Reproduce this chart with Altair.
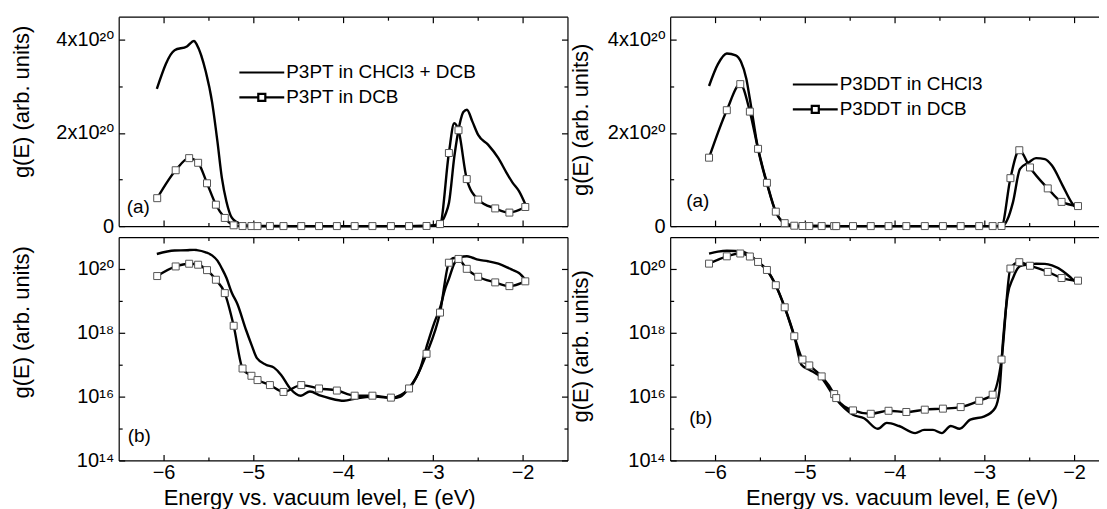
import altair as alt
import pandas as pd

FONT = "Liberation Sans, DejaVu Sans, Arial, sans-serif"

# ---------------- data ----------------
# Left: P3PT
LA_NAME = "P3PT in CHCl3 + DCB"
LA_E = [-6.075, -5.877, -5.74, -5.66, -5.63, -5.53, -5.46, -5.40, -5.35, -5.30, -5.24, -5.18,
        -5.08, -5.02, -4.96, -4.86, -4.77, -4.69, -4.59, -4.47, -4.37, -4.25, -4.15, -3.99,
        -3.85, -3.65, -3.45, -3.36, -3.27, -3.14, -3.06, -2.98, -2.92, -2.86, -2.82, -2.76,
        -2.70, -2.66, -2.62, -2.56, -2.495, -2.385, -2.27, -2.18, -2.11, -2.04, -1.963]
LA_G = [2.95e20, 3.78e20, 3.86e20, 3.98e20, 3.90e20, 3.32e20, 2.67e20, 1.82e20, 1.03e20, 5.3e19,
        1.8e19, 8.3e18, 1.2e18, 4.2e17, 1.6e17, 1.0e17, 8.1e16, 4.8e16, 1.8e16, 1.07e16, 1.45e16,
        1.07e16, 8.9e15, 7.4e15, 8.9e15, 1.0e16, 8.9e15, 1.0e16, 1.8e16, 7.6e16, 4.5e17, 2.2e18,
        6e18, 2.5e19, 5e19, 1.5e20, 2.2e20, 2.45e20, 2.50e20, 2.25e20, 1.96e20, 1.75e20, 1.46e20,
        1.15e20, 0.93e20, 0.75e20, 0.44e20]

LB_NAME = "P3PT in DCB"
LB_E = [-6.071, -5.865, -5.715, -5.615, -5.516, -5.417, -5.318, -5.219, -5.120, -5.021, -4.953,
        -4.815, -4.664, -4.466, -4.268, -4.069, -3.871, -3.673, -3.467, -3.265, -3.070, -2.920,
        -2.821, -2.714, -2.622, -2.495, -2.305, -2.147, -1.97]
LB_G = [6.0e19, 1.2e20, 1.46e20, 1.36e20, 9.2e19, 4.6e19, 1.75e19, 1.66e18, 7.6e16, 4.5e16, 3.3e16,
        2.3e16, 1.4e16, 2.3e16, 1.8e16, 1.55e16, 1.07e16, 1.07e16, 9.3e15, 1.8e16, 2.2e17, 4.3e18,
        1.57e20, 2.06e20, 1.01e20, 5.7e19, 3.8e19, 2.9e19, 4.1e19]
# points of the DCB curve between markers (spike)
LB_XE = [-2.762]
LB_XG = [2.21e20]

# Right: P3DDT
RA_NAME = "P3DDT in CHCl3"
RA_E = [-6.067, -5.968, -5.869, -5.77, -5.711, -5.651, -5.612, -5.521, -5.422, -5.323, -5.224,
        -5.117, -5.038, -4.95, -4.812, -4.661, -4.463, -4.34, -4.186, -4.087, -3.95, -3.77,
        -3.671, -3.572, -3.473, -3.374, -3.275, -3.156, -2.998, -2.879, -2.832, -2.792, -2.74,
        -2.681, -2.602, -2.503, -2.424, -2.325, -2.246, -2.127, -2.028, -1.97]
RA_G = [3.01e20, 3.48e20, 3.71e20, 3.67e20, 3.53e20, 3.16e20, 2.73e20, 1.66e20, 9.1e19, 3.0e19,
        6.3e18, 7.8e17, 1.0e17, 7e16, 3.8e16, 9e15, 2.7e15, 2.1e15, 9.8e14, 1.5e15, 1.2e15, 7.2e14,
        9.1e14, 9.1e14, 7.2e14, 1.2e15, 9.8e14, 1.9e15, 2.4e15, 4.4e15, 1.45e16, 5.4e17, 1.5e19,
        5.1e19, 1.23e20, 1.37e20, 1.46e20, 1.44e20, 1.30e20, 8.7e19, 5.1e19, 3.7e19]

RB_NAME = "P3DDT in DCB"
RB_E = [-6.067, -5.869, -5.719, -5.612, -5.521, -5.422, -5.323, -5.224, -5.117, -5.026, -4.95,
        -4.812, -4.673, -4.65, -4.463, -4.265, -4.067, -3.869, -3.663, -3.461, -3.263, -3.057,
        -2.907, -2.808, -2.709, -2.610, -2.491, -2.293, -2.139, -1.956]
RB_G = [1.47e20, 2.49e20, 3.05e20, 2.46e20, 1.66e20, 9.3e19, 3.1e19, 6.3e18, 7.8e17, 1.45e17,
        9.5e16, 4.3e16, 1.2e16, 9e15, 3.7e15, 2.9e15, 3.6e15, 3.3e15, 3.9e15, 4.2e15, 4.7e15,
        7.4e15, 1.15e16, 1.45e17, 1.03e20, 1.63e20, 1.26e20, 8.1e19, 5.2e19, 4.3e19]

X_MAJOR = [-6, -5, -4, -3, -2]
X_MINOR = [-5.5, -4.5, -3.5, -2.5]
Y_LIN_MAJOR = [0, 2e20, 4e20]
Y_LIN_MINOR = [1e20, 3e20]
Y_LOG_MAJOR = [1e14, 1e16, 1e18, 1e20]
Y_LOG_MINOR = [1e15, 1e17, 1e19]

Y_TITLE = "g(E) (arb. units)"
X_TITLE = "Energy vs. vacuum level, E (eV)"

PATH_LINE = "M-3,0H3"
PATH_SQ = "M-3,0H-0.47M0.47,0H3M-0.47,-0.47H0.47V0.47H-0.47Z"


def frame(E, G, name):
    return pd.DataFrame({"E": E, "g": G, "series": name})


def panel(a_df, bl_df, bm_df, log, xdom, width, height, bottom, right_axes,
          ytx, yty, xtx, tag, tagx, tagy, legend=None):
    xs = alt.Scale(domain=xdom, nice=False, zero=False)
    if log:
        ys = alt.Scale(type="log", domain=[1e14, 1e21], nice=False)
        ymaj, ymin = Y_LOG_MAJOR, Y_LOG_MINOR
        lexpr = ("'10' + (datum.value > 5e19 ? '\u00b2\u2070' : datum.value > 5e17 ? '\u00b9\u2078' : "
                 "datum.value > 5e15 ? '\u00b9\u2076' : '\u00b9\u2074')")
    else:
        ys = alt.Scale(domain=[0, 4.5e20], nice=False, zero=False)
        ymaj, ymin = Y_LIN_MAJOR, Y_LIN_MINOR
        lexpr = "datum.value == 0 ? '0' : format(datum.value / 1e20, 'd') + 'x10\u00b2\u2070'"

    def X(axis):
        return alt.X("E:Q", scale=xs, axis=axis)

    def Y(axis):
        return alt.Y("g:Q", scale=ys, axis=axis)

    def tk(orient, vals, size):
        return alt.Axis(orient=orient, values=vals, domain=False, ticks=True, tickSize=size,
                        offset=-size, labels=False, title=None, grid=False)

    def dm(orient):
        return alt.Axis(orient=orient, domain=True, ticks=False, labels=False, title=None, grid=False)

    if bottom:
        x_main = alt.Axis(orient="bottom", domain=True, ticks=False, labels=True, values=X_MAJOR,
                          labelPadding=2, title=X_TITLE, titleX=xtx, titleY=27, grid=False)
    else:
        x_main = dm("bottom")
    y_main = alt.Axis(orient="left", domain=True, ticks=False, labels=True, values=ymaj,
                      labelExpr=lexpr, labelPadding=5, title=Y_TITLE, titleX=ytx, titleY=yty,
                      grid=False)

    line_kw = dict(color="black", strokeWidth=2.4, interpolate="monotone")
    l1 = alt.Chart(a_df).mark_line(**line_kw).encode(x=X(x_main), y=Y(y_main))
    l2 = alt.Chart(bl_df).mark_line(**line_kw).encode(
        x=X(tk("bottom", X_MAJOR, 6)), y=Y(tk("left", ymaj, 6)))
    l3 = alt.Chart(bm_df).mark_point(shape="square", filled=True, fill="white", stroke="#555555",
                                     strokeWidth=1, size=49, opacity=1).encode(
        x=X(tk("bottom", X_MINOR, 3.5)), y=Y(tk("left", ymin, 3.5)))

    ghost = alt.Chart(bm_df).transform_filter("false")
    enc4 = dict(x=X(dm("top")), y=Y(dm("right") if right_axes else None))
    if legend is not None:
        names, lx, ly = legend
        enc4["shape"] = alt.Shape(
            "series:N",
            scale=alt.Scale(domain=names, range=[PATH_LINE, PATH_SQ]),
            legend=alt.Legend(orient="none", legendX=lx, legendY=ly, title=None, labelFont=FONT,
                              labelFontSize=19, labelColor="black", labelLimit=400,
                              symbolSize=225, symbolStrokeWidth=2.2, symbolStrokeColor="black",
                              symbolOpacity=1, labelOffset=15, rowPadding=5, padding=0))
    l4 = ghost.mark_point(filled=False, color="black", strokeWidth=2.2,
                          opacity=1).encode(**enc4)
    l5 = ghost.mark_point().encode(x=X(tk("top", X_MAJOR, 6)),
                                   y=Y(tk("right", ymaj, 6) if right_axes else None))
    l6 = ghost.mark_point().encode(x=X(tk("top", X_MINOR, 3.5)),
                                   y=Y(tk("right", ymin, 3.5) if right_axes else None))
    l7 = alt.Chart(pd.DataFrame({"tag": [tag]})).mark_text(
        align="left", baseline="middle", fontSize=19, font=FONT, color="black").encode(
        x=alt.value(tagx), y=alt.value(tagy), text="tag:N")

    return (alt.layer(l1, l2, l3, l4, l5, l6, l7)
            .resolve_axis(x="independent", y="independent")
            .properties(width=width, height=height))


la = frame(LA_E, LA_G, LA_NAME)
lbm = frame(LB_E, LB_G, LB_NAME)
lbl = pd.concat([lbm, frame(LB_XE, LB_XG, LB_NAME)]).sort_values("E")
ra = frame(RA_E, RA_G, RA_NAME)
rbm = frame(RB_E, RB_G, RB_NAME)
rbl = rbm

LW, RW, TH, BH = 450, 430, 210, 224
LDOM, RDOM = [-6.5, -1.5], [-6.5, -1.722]

left = alt.vconcat(
    panel(la, lbl, lbm, False, LDOM, LW, TH, False, True, -85, 85, 201, "(a)", 8, 191,
          legend=([LA_NAME, LB_NAME], 134, 46.5)),
    panel(la, lbl, lbm, True, LDOM, LW, BH, True, True, -85, 85, 201, "(b)", 9, 200),
    spacing=0).resolve_scale(shape="independent")

right = alt.vconcat(
    panel(ra, rbl, rbm, False, RDOM, RW, TH, False, False, -78, 103, 232, "(a)", 16, 185,
          legend=([RA_NAME, RB_NAME], 136, 58.5)),
    panel(ra, rbl, rbm, True, RDOM, RW, BH, True, False, -78, 109, 232, "(b)", 19, 181),
    spacing=0).resolve_scale(shape="independent")

chart = (alt.hconcat(left, right, spacing=0)
         .resolve_scale(shape="independent")
         .properties(padding={"left": 3, "top": 7, "right": 0, "bottom": 0},
                     background="white")
         .configure_view(stroke=None)
         .configure_axis(labelFont=FONT, titleFont=FONT, labelFontSize=20, titleFontSize=22,
                         labelColor="black", titleColor="black", titleFontWeight="normal",
                         domainColor="black", tickColor="black", domainWidth=1.2, tickWidth=1.2,
                         grid=False)
         .configure_legend(labelFont=FONT))

chart.save("out.html", embed_options={"renderer": "svg", "actions": False})
